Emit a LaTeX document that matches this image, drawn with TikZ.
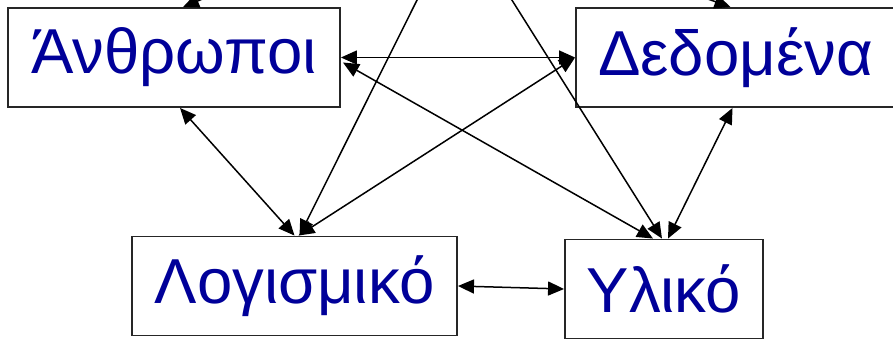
\documentclass[tikz,border=0pt]{standalone}
\usepackage{fontspec}
\setmainfont{Liberation Sans}
\usetikzlibrary{arrows.meta, positioning, math, calc}
\definecolor{textBlue}{RGB}{0,0,153}

\begin{document}
\begin{tikzpicture}[x=1pt,y=1pt]
	\tikzmath{
		\frameW   = 893; %picture width
		\frameH   = 340; %picture height
		\nodeH    = 99;  %node height
		\upperY   = 282.5; %centre line of the upper nodes
	}
	\tikzstyle{Node} = [
		rectangle,
		minimum height=\nodeH pt,
		inner sep=0pt,
		draw=black!85,
		line width=1.9pt,
		text=textBlue,
		font=\fontsize{63.5}{70}\selectfont
	]
	\tikzstyle{Conn} = [line width=1.5pt, >={Triangle[length=16pt,width=14pt]}]

	\useasboundingbox (0,0) rectangle (\frameW,\frameH);
	\clip (0,0) rectangle (\frameW,\frameH);

	%%%%%%%%%%%%%%%%%%%%%%%%%%===---NODES---===%%%%%%%%%%%%%%%%%%%%%%%%%%
	\node (anthr)  [Node, minimum width=332pt] at (174,\upperY)   {Άνθρωποι};
	\node (dedom)  [Node, minimum width=319pt] at (735.5,\upperY) {Δεδομένα};
	\node (logism) [Node, minimum width=325pt] at (294.5,54)      {Λογισμικό};
	\node (ylik)   [Node, minimum width=198pt] at (664,51)        {Υλικό};

	%free ends, outside the frame
	\coordinate (upLeft)  at (297,380);
	\coordinate (upRight) at (598,380);
	\coordinate (upMid)   at (459,424);

	%%%%%%%%%%%%%%%%%%%%%%%%%%===---CONNECTORS---===%%%%%%%%%%%%%%%%%%%%%%%%%%
	\draw[->, Conn] (upLeft)  -- ($(anthr.north) + (9,0)$);
	\draw[->, Conn] (upRight) -- ($(dedom.north) + (-5,0)$);
	\draw[->, Conn] (upMid)   -- ($(logism.north) + (5,0)$);
	\draw[->, Conn] (upMid)   -- ($(ylik.north) + (-2,0)$);

	\draw[<->, Conn] (anthr.east) -- (dedom.west);
	\draw[<->, Conn] ($(anthr.east) + (2,-5)$) -- ($(ylik.north) + (-11,0)$);
	\draw[<->, Conn] (dedom.west) -- ($(logism.north) + (4,0)$);
	\draw[<->, Conn] ($(anthr.south) + (6,0)$) -- (logism.north);
	\draw[<->, Conn] ($(dedom.south) + (-3,0)$) -- ($(ylik.north) + (4,0)$);
	\draw[<->, Conn] (logism.east) -- (ylik.west);
\end{tikzpicture}
\end{document}
